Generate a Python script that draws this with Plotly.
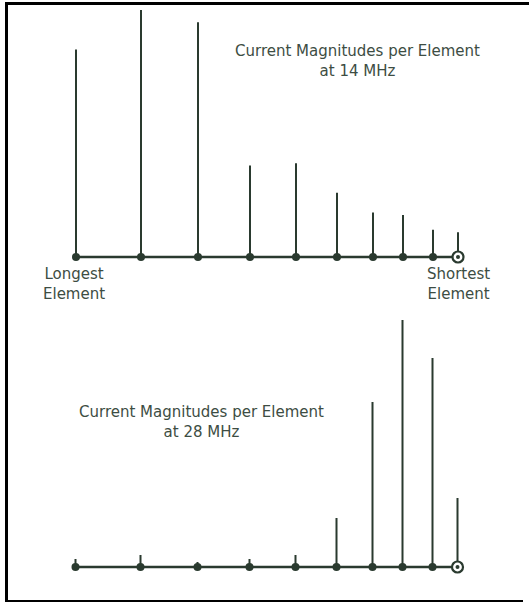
import plotly.graph_objects as go

# ---- data ----
element_positions = [0, 65, 122, 174, 220, 261, 297, 327, 357, 382]  # relative position along boom
current_14mhz = [0.84, 1.00, 0.95, 0.37, 0.38, 0.26, 0.18, 0.17, 0.11, 0.10]
current_28mhz = [0.032, 0.049, 0.020, 0.032, 0.049, 0.198, 0.668, 1.00, 0.846, 0.279]
title_14 = "Current Magnitudes per Element<br>at 14 MHz"
title_28 = "Current Magnitudes per Element<br>at 28 MHz"
label_longest = "Longest<br>Element"
label_shortest = "Shortest<br>Element"

W, H = 529, 603
INK = "#2a3a2f"
TXT = "#3d4d43"
FONT = "DejaVu Sans"
FS = 15

fig = go.Figure()


def px_x(p):
    return p / W


def px_y(p):
    return 1 - p / H


def add_panel(values, xa, ya):
    sx, sy = [], []
    for x, v in zip(element_positions, values):
        sx += [x, x, None]
        sy += [0, v, None]
    common = dict(xaxis=xa, yaxis=ya, cliponaxis=False, hoverinfo="skip", showlegend=False)
    fig.add_trace(go.Scatter(x=sx, y=sy, mode="lines", line=dict(color=INK, width=2), **common))
    fig.add_trace(go.Scatter(x=[element_positions[0], element_positions[-1]], y=[0, 0],
                             mode="lines", line=dict(color=INK, width=2.6), **common))
    fig.add_trace(go.Scatter(x=element_positions[:-1], y=[0] * (len(element_positions) - 1),
                             mode="markers", marker=dict(color=INK, size=8, symbol="circle"), **common))
    fig.add_trace(go.Scatter(x=[element_positions[-1]], y=[0], mode="markers",
                             marker=dict(color="white", size=11, symbol="circle",
                                         line=dict(color=INK, width=2.2)), **common))
    fig.add_trace(go.Scatter(x=[element_positions[-1]], y=[0], mode="markers",
                             marker=dict(color=INK, size=4, symbol="circle"), **common))


add_panel(current_14mhz, "x", "y")
add_panel(current_28mhz, "x2", "y2")

axis_common = dict(visible=False, showgrid=False, zeroline=False, fixedrange=True)
PAD = 6  # px of padding so end stems are not clipped
span = element_positions[-1]
xr = [-PAD, span + PAD]
ypad = PAD / 247
yr = [-ypad, 1 + ypad]
fig.update_layout(
    width=W, height=H,
    margin=dict(l=0, r=0, t=0, b=0),
    paper_bgcolor="white", plot_bgcolor="rgba(0,0,0,0)",
    xaxis=dict(domain=[px_x(76 - PAD), px_x(458 + PAD)], range=xr, anchor="y", **axis_common),
    yaxis=dict(domain=[px_y(257 + PAD), px_y(10 - PAD)], range=yr, anchor="x", **axis_common),
    xaxis2=dict(domain=[px_x(75.5 - PAD), px_x(457.5 + PAD)], range=xr, anchor="y2", **axis_common),
    yaxis2=dict(domain=[px_y(567 + PAD), px_y(320 - PAD)], range=yr, anchor="x2", **axis_common),
)

font = dict(family=FONT, size=FS, color=TXT)
# (text, center x px, center y px)
texts = [
    (title_14, 357.5, 60.5),
    (title_28, 201, 421.5),
    (label_longest, 74, 283.5),
    (label_shortest, 458, 283.5),
]
for txt, cx, cy in texts:
    fig.add_annotation(xref="paper", yref="paper", xanchor="center", yanchor="middle",
                       x=px_x(cx), y=px_y(cy), text=txt, align="center",
                       showarrow=False, font=font)

# frame
frame = [
    dict(x0=px_x(5), x1=px_x(529), y0=px_y(3.5), y1=px_y(3.5), w=3),
    dict(x0=px_x(6.5), x1=px_x(6.5), y0=px_y(2), y1=px_y(602), w=3),
    dict(x0=px_x(5), x1=px_x(523), y0=px_y(601), y1=px_y(601), w=2),
]
for f in frame:
    fig.add_shape(type="line", xref="paper", yref="paper", x0=f["x0"], x1=f["x1"],
                  y0=f["y0"], y1=f["y1"], line=dict(color="black", width=f["w"]))

fig.write_html("out.html", config={"displayModeBar": False},
               post_script="document.body.style.margin='0';")
